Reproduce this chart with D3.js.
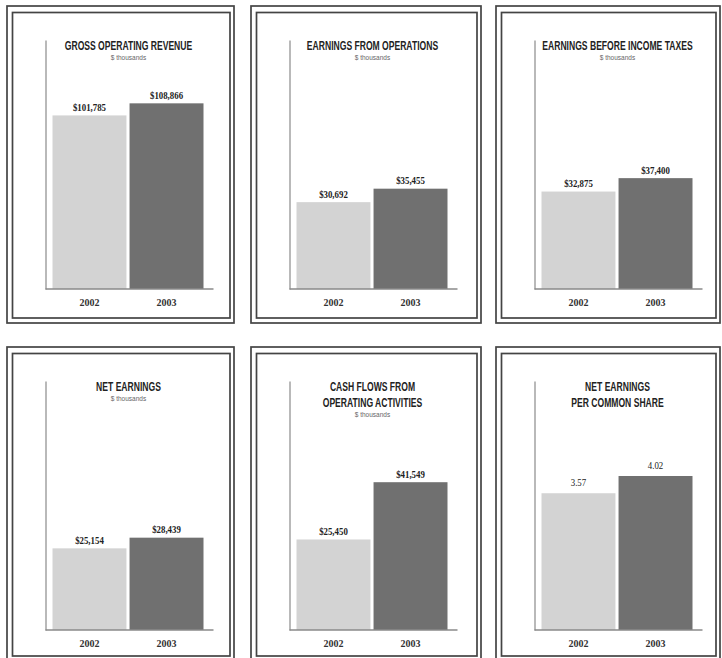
<!DOCTYPE html>
<html>
<head>
<meta charset="utf-8">
<script src="https://cdn.jsdelivr.net/npm/d3@7"></script>
<style>
    body { margin: 0; background: #fff; }
    svg { display: block; }
</style>
</head>
<body>
<div id="chart"></div>
<script>
const years = ["2002", "2003"];
const titles = [
    ["GROSS OPERATING REVENUE"],
    ["EARNINGS FROM OPERATIONS"],
    ["EARNINGS BEFORE INCOME TAXES"],
    ["NET EARNINGS"],
    ["CASH FLOWS FROM", "OPERATING ACTIVITIES"],
    ["NET EARNINGS", "PER COMMON SHARE"]
];
const units = ["$ thousands", "$ thousands", "$ thousands", "$ thousands", "$ thousands", ""];
const values2002 = [101785, 30692, 32875, 25154, 25450, 3.57];
const values2003 = [108866, 35455, 37400, 28439, 41549, 4.02];
// each panel has its own value scale
const scaleMax = [146000, 88000, 84000, 76700, 70000, 6.5];

const colX = [7, 251, 496];
const colW = [227, 230, 224];
const rowY = [6, 347];
const rowH = [317, 314];

const svg = d3.select("#chart").append("svg")
    .attr("width", 722)
    .attr("height", 658);

const barColors = ["#d3d3d3", "#707070"];
const money = d3.format(",");

function condensed(sel, sx) {
    // squeeze the text horizontally around its anchor point
    sel.attr("transform", function() {
        const x = +this.getAttribute("x"), y = +this.getAttribute("y");
        return `translate(${x},${y}) scale(${sx},1) translate(${-x},${-y})`;
    });
}

titles.forEach((title, i) => {
    const row = Math.floor(i / 3);
    const ox = colX[i % 3], oy = rowY[row], w = colW[i % 3], h = rowH[row];
    const g = svg.append("g");

    // double frame
    g.append("rect")
        .attr("x", ox).attr("y", oy)
        .attr("width", w).attr("height", h)
        .attr("fill", "none").attr("stroke", "#444").attr("stroke-width", 1.7);
    g.append("rect")
        .attr("x", ox + 5.5).attr("y", oy + 6.5)
        .attr("width", w - 9.5).attr("height", h - 11.5)
        .attr("fill", "none").attr("stroke", "#444").attr("stroke-width", 1.7);

    const axisX = ox + 38.5;
    const top = oy + 34, base = oy + 283;

    const x = d3.scaleBand()
        .domain(years)
        .range([axisX + 7, axisX + 158])
        .paddingInner(0.04)
        .paddingOuter(0);

    const y = d3.scaleLinear()
        .domain([0, scaleMax[i]])
        .range([base, top]);

    const vals = [values2002[i], values2003[i]];

    g.selectAll(".bar")
        .data(vals)
        .enter().append("rect")
        .attr("class", "bar")
        .attr("x", (d, j) => x(years[j]))
        .attr("width", x.bandwidth())
        .attr("y", d => y(d))
        .attr("height", d => base - y(d))
        .attr("fill", (d, j) => barColors[j]);

    // vertical axis line only
    g.append("g")
        .attr("transform", `translate(${axisX},0)`)
        .call(d3.axisLeft(y).tickValues([]).tickSizeOuter(0))
        .select(".domain")
        .attr("stroke", "#8a8a8a")
        .attr("stroke-width", 1.2);

    g.append("line")
        .attr("x1", axisX).attr("x2", axisX + 168)
        .attr("y1", base).attr("y2", base)
        .attr("stroke", "#8a8a8a")
        .attr("stroke-width", 1.5);

    const xAxis = g.append("g")
        .attr("transform", `translate(0,${base})`)
        .call(d3.axisBottom(x).tickSize(0).tickPadding(10));
    xAxis.select(".domain").remove();
    xAxis.selectAll("text")
        .attr("font-family", "Liberation Serif")
        .attr("font-weight", "bold")
        .attr("font-size", 10)
        .attr("fill", "#333");

    // value labels
    g.selectAll(".val")
        .data(vals)
        .enter().append("text")
        .attr("class", "val")
        .attr("x", (d, j) => x(years[j]) + x.bandwidth() / 2)
        .attr("y", d => y(d) - (i === 5 ? 7 : 4.5))
        .attr("text-anchor", "middle")
        .attr("font-family", "Liberation Serif")
        .attr("font-weight", i === 5 ? "normal" : "bold")
        .attr("font-size", 9.5)
        .attr("fill", "#222")
        .text(d => i === 5 ? d3.format(".2f")(d) : "$" + money(d))
        .call(condensed, 0.93);

    const cx = axisX + 83;
    title.forEach((line, k) => {
        g.append("text")
            .attr("x", cx)
            .attr("y", oy + 44 + k * 16)
            .attr("text-anchor", "middle")
            .attr("font-family", "Liberation Sans")
            .attr("font-weight", "bold")
            .attr("font-size", 13)
            .attr("fill", "#222")
            .text(line)
            .call(condensed, 0.66);
    });

    if (units[i]) {
        g.append("text")
            .attr("x", cx)
            .attr("y", oy + 53.5 + (title.length - 1) * 16)
            .attr("text-anchor", "middle")
            .attr("font-family", "Liberation Sans")
            .attr("font-size", 6.5)
            .attr("fill", "#666")
            .text(units[i]);
    }
});
</script>
</body>
</html>
